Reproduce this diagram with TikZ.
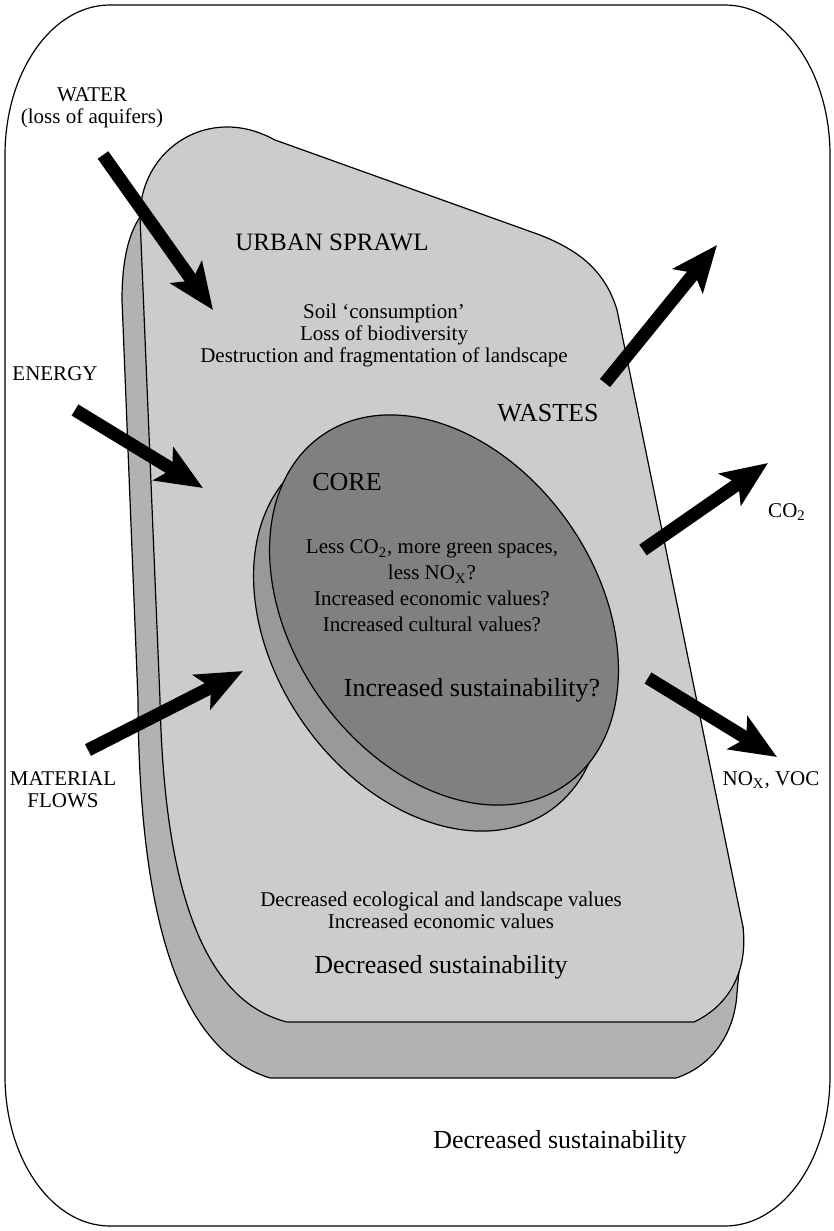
\documentclass[tikz,border=0pt]{standalone}
\usepackage{fontspec}
\setmainfont{Liberation Serif}
\usetikzlibrary{arrows.meta}
\definecolor{sprawl}{gray}{0.8}
\definecolor{sprawlside}{gray}{0.7}
\definecolor{coreside}{gray}{0.6}
\definecolor{coretop}{gray}{0.5}
\begin{document}
\begin{tikzpicture}[x=0.5pt,y=-0.5pt,
  outline/.style={draw=black, line width=0.6pt},
  flow/.style={line width=6.5pt, -{Stealth[length=23pt,width=19pt,inset=5pt]}},
  small/.style={font=\fontsize{10.5pt}{11pt}\selectfont, align=center, inner sep=0pt},
  corefont/.style={font=\fontsize{10.5pt}{13pt}\selectfont, align=center, inner sep=0pt},
  big/.style={font=\fontsize{13pt}{15pt}\selectfont, align=center, inner sep=0pt}]
\useasboundingbox (0,0) rectangle (834,1231);
% outer frame (elliptical corners)
\draw[outline] (110,5) -- (725,5) .. controls (783,5) and (830,72) .. (830,155)
  -- (830,1076) .. controls (830,1159) and (783,1226) .. (725,1226)
  -- (110,1226) .. controls (52,1226) and (5,1159) .. (5,1076)
  -- (5,155) .. controls (5,72) and (52,5) .. (110,5) -- cycle;
% sprawl side (thickness)
\filldraw[outline, fill=sprawlside] (140,217) .. controls (128,235) and (122,262) .. (122,300)
  -- (138,700) .. controls (139,920) and (180,1050) .. (270,1078)
  -- (676,1078) .. controls (715,1065) and (735,1030) .. (737,993)
  -- (743,927) -- cycle;
% sprawl top
\filldraw[outline, fill=sprawl] (140,217) .. controls (140,165) and (180,127) .. (227,127)
  .. controls (245,127) and (260,132) .. (275,140) -- (540,235)
  .. controls (578,250) and (605,270) .. (617,310) -- (743,927)
  .. controls (748,970) and (730,1005) .. (694,1022) -- (287,1022)
  .. controls (200,1000) and (164,880) .. (160,700) -- cycle;
% core
\filldraw[outline, fill=coreside] (428,636) ellipse [x radius=106.5pt, y radius=76pt, rotate=-55];
\filldraw[outline, fill=coretop] (444,610) ellipse [x radius=106.5pt, y radius=76pt, rotate=-55];
% texts
\node[small] (water) at (92,108) {WATER\\(loss of aquifers)};
\node[font=\fontsize{12.5pt}{15pt}\selectfont, inner sep=0pt] (sprawltitle) at (332,242) {URBAN SPRAWL};
\node[small] (sprawlfx) at (384,335) {Soil ‘consumption’\\Loss of biodiversity\\Destruction and fragmentation of landscape};
\node[small] (energy) at (55,374) {ENERGY};
\node[big] (wastes) at (548,413) {WASTES};
\node[big] (core) at (347,482) {CORE};
\node[corefont] (corefx) at (432,586) {Less CO\textsubscript{2}, more green spaces,\\less NO\textsubscript{X}?\\Increased economic values?\\Increased cultural values?};
\node[big] (coresust) at (472,690) {Increased sustainability?};
\node[small] (co2) at (787,512) {CO\textsubscript{2}};
\node[small] (nox) at (771,780) {NO\textsubscript{X}, VOC};
\node[small] (material) at (63,790) {MATERIAL\\FLOWS};
\node[small] (sprawlval) at (441,910) {Decreased ecological and landscape values\\Increased economic values};
\node[big] (sprawlsust) at (441,967) {Decreased sustainability};
\node[big] (outsust) at (560,1142) {Decreased sustainability};
% arrows
\coordinate (waterT) at (103,155);  \coordinate (waterH) at (213,310);
\coordinate (energyT) at (75,410);  \coordinate (energyH) at (203,488);
\coordinate (matT) at (88,750);     \coordinate (matH) at (243,671);
\coordinate (wasteT) at (605,383);  \coordinate (wasteH) at (717,245);
\coordinate (co2T) at (643,550);    \coordinate (co2H) at (768,463);
\coordinate (noxT) at (648,678);    \coordinate (noxH) at (777,757);
\draw[flow] (waterT) -- (waterH);
\draw[flow] (energyT) -- (energyH);
\draw[flow] (matT) -- (matH);
\draw[flow] (wasteT) -- (wasteH);
\draw[flow] (co2T) -- (co2H);
\draw[flow] (noxT) -- (noxH);
\end{tikzpicture}
\end{document}
